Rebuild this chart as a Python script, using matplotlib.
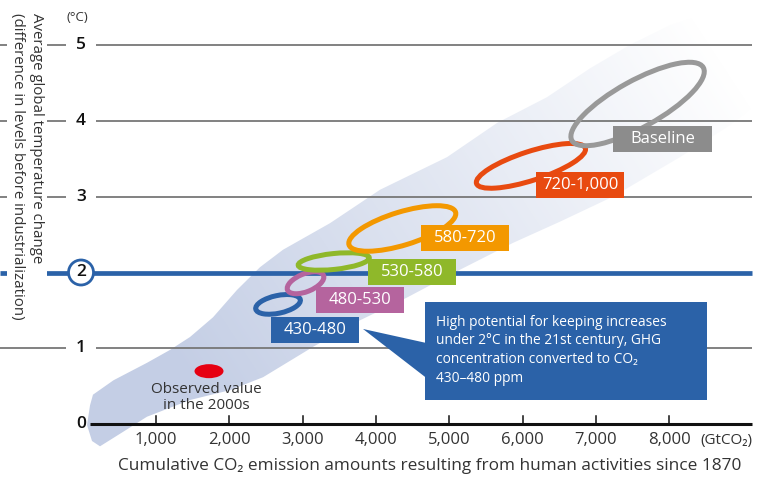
"""Cumulative CO2 emissions vs. global temperature change, by scenario."""
import numpy as np
import matplotlib
matplotlib.use("Agg")
import matplotlib.pyplot as plt
from matplotlib.patches import Ellipse, Rectangle, Polygon, Circle
from matplotlib.transforms import Affine2D

plt.rcParams['font.family'] = ['Open Sans', 'DejaVu Sans']

# scenarios (CO2-eq concentration in 2100, ppm)
SCENARIOS = ["430-480", "480-530", "530-580", "580-720", "720-1,000", "Baseline"]
RING_COLORS = ["#2b62a8", "#b5649e", "#8fb82a", "#f39800", "#e84a10", "#999999"]
BOX_COLORS = ["#2b62a8", "#b5649e", "#8fb82a", "#f39800", "#e84a10", "#8c8c8c"]
# extent of each scenario ring: cumulative emissions (GtCO2) and warming (degC)
EMIS_LO = [2360, 2790, 2940, 3630, 5370, 6660]
EMIS_HI = [2970, 3290, 3910, 5090, 6860, 8480]
TEMP_LO = [1.45, 1.72, 2.03, 2.28, 3.11, 3.67]
TEMP_HI = [1.71, 2.01, 2.26, 2.88, 3.70, 4.77]
TILT = [12, 22, 6, 17, 18, 29]  # degrees
LABEL_X = [3169, 3783, 4493, 5216, 6791, 7910]
LABEL_Y = [1.242, 1.638, 2.007, 2.455, 3.153, 3.759]

# observed value in the 2000s
OBS_EMIS = 1723
OBS_TEMP = 0.70

# range of all scenarios (shaded plume), outline in GtCO2 / degC
PLUME_X = [100, 140, 420, 877, 1191, 1464, 1778, 2105, 2419, 2733, 3374, 4056,
           4970, 5652, 6334, 6921, 7467, 8012, 8831, 9281, 9281, 8831, 8149,
           7235, 6512, 5870, 5011, 4424, 3783, 3142, 2460, 2010, 1464, 877,
           550, 236, 127, 59]
PLUME_Y = [0.25, 0.39, 0.58, 0.81, 0.98, 1.15, 1.41, 1.77, 2.07, 2.30, 2.65,
           3.09, 3.52, 3.97, 4.31, 4.69, 5.00, 5.26, 5.52, 5.06, 4.27, 3.94,
           3.52, 3.00, 2.67, 2.39, 1.97, 1.67, 1.37, 1.02, 0.62, 0.45, 0.32,
           0.10, -0.10, -0.29, -0.22, -0.01]

X_TICKS = [1000, 2000, 3000, 4000, 5000, 6000, 7000, 8000]
Y_TICKS = [0, 1, 2, 3, 4, 5]

# figure geometry: 73.3 px per 1000 GtCO2, 75.9 px per degC
W, H = 763, 484
PX_X = 1000 / 73.3
PX_Y = 1 / 75.9
X0, Y0 = 82.7, 424.3          # pixel position of the origin
XLIM = (-X0 * PX_X, (W - X0) * PX_X)
YLIM = ((Y0 - H) * PX_Y, Y0 * PX_Y)
X_END = 9133

fig = plt.figure(figsize=(W / 100, H / 100), dpi=100)
ax = fig.add_axes([0, 0, 1, 1])
ax.set_xlim(*XLIM)
ax.set_ylim(*YLIM)
ax.axis("off")


def px_transform(cx, cy):
    # shapes sized in pixels, placed at a data position
    return Affine2D().scale(PX_X, PX_Y).translate(cx, cy) + ax.transData


# plume with fading gradient
gx, gy = np.meshgrid(np.arange(W) + 0.5, np.arange(H) + 0.5)
t = ((gx - 150) * 550 - (gy - 420) * 360) / (550 ** 2 + 360 ** 2)
alpha = np.clip(1.09 - 1.06 * t, 0, 1)
rgba = np.zeros((H, W, 4))
rgba[..., 0], rgba[..., 1], rgba[..., 2] = 196 / 255, 206 / 255, 229 / 255
rgba[..., 3] = alpha
plume = Polygon(np.column_stack([PLUME_X, PLUME_Y]), closed=True,
                facecolor="none", edgecolor="none")
ax.add_patch(plume)
im = ax.imshow(rgba, extent=(*XLIM, *YLIM), origin="upper", aspect="auto",
               zorder=1, interpolation="bilinear")
im.set_clip_path(plume)

# grid lines
for yv in Y_TICKS:
    if yv == 0:
        ax.plot([100, X_END], [0, 0], color="#111111", lw=2.2, zorder=3,
                solid_capstyle="butt")
    elif yv == 2:
        ax.plot([XLIM[0], X_END], [2, 2], color="#2b62a8", lw=3.4, zorder=2,
                solid_capstyle="butt")
    else:
        ax.plot([XLIM[0], X_END], [yv, yv], color="#777777", lw=1.3, zorder=2,
                solid_capstyle="butt")

# x ticks
for xv in X_TICKS:
    ax.plot([xv, xv], [0, 0.11], color="#111111", lw=1.1, zorder=3)
    ax.text(xv, -0.207, f"{xv:,}", ha="center", va="center", fontsize=12,
            color="#333333", zorder=6)
ax.text(8776, -0.207, "(GtCO₂)", ha="center", va="center", fontsize=11,
        color="#333333")

# y ticks
LX = -23
for yv in Y_TICKS:
    if yv == 2:
        ax.add_patch(Circle((0, 0), 12.5, transform=px_transform(LX, 2),
                            facecolor="white", edgecolor="#2b62a8", lw=2,
                            zorder=5))
        ax.text(LX, 2, "2", ha="center", va="center", fontsize=12.5,
                fontweight="semibold", color="#111111", zorder=6)
    elif yv == 0:
        ax.text(LX, 0, "0", ha="center", va="center", fontsize=12.5,
                fontweight="semibold", color="#111111", zorder=6)
    else:
        ax.text(LX, yv, str(yv), ha="center", va="center", fontsize=12.5,
                fontweight="semibold", color="#111111", zorder=6,
                bbox=dict(facecolor="white", edgecolor="none", pad=7))
ax.text(-78, 5.366, "(°C)", ha="center", va="center", fontsize=9.5,
        color="#333333")

ax.text(-760, 5.42,
        "Average global temperature change\n(difference in levels before industrialization)",
        rotation=270, ha="center", va="top", multialignment="left",
        fontsize=10.8, color="#333333", linespacing=1.4, zorder=6,
        bbox=dict(facecolor="white", edgecolor="none", pad=2))

ax.text(4738, -0.549,
        "Cumulative CO₂ emission amounts resulting from human activities since 1870",
        ha="center", va="center", fontsize=12.4, color="#333333")

# scenario rings and labels
for name, ring, box, elo, ehi, tlo, thi, tilt, lx, ly in zip(
        SCENARIOS, RING_COLORS, BOX_COLORS, EMIS_LO, EMIS_HI, TEMP_LO, TEMP_HI,
        TILT, LABEL_X, LABEL_Y):
    hw = (ehi - elo) / 2 / PX_X
    hh = (thi - tlo) / 2 / PX_Y
    c2 = np.cos(np.radians(2 * tilt))
    s = hw ** 2 + hh ** 2
    d = (hw ** 2 - hh ** 2) / c2
    a = np.sqrt((s + d) / 2)
    b = np.sqrt(max((s - d) / 2, 4.0))
    ax.add_patch(Ellipse((0, 0), 2 * a, 2 * b, angle=tilt,
                         transform=px_transform((elo + ehi) / 2, (tlo + thi) / 2),
                         facecolor="none", edgecolor=ring, lw=3.6, zorder=4))
    bw = 99 if name == "Baseline" else 88
    ax.add_patch(Rectangle((-bw / 2, -13), bw, 26, transform=px_transform(lx, ly),
                           facecolor=box, edgecolor="none", zorder=5))
    ax.text(lx, ly, name, ha="center", va="center", fontsize=12, color="white",
            zorder=6)

# observed value
ax.add_patch(Ellipse((0, 0), 29, 14, transform=px_transform(OBS_EMIS, OBS_TEMP),
                     facecolor="#e60012", edgecolor="none", zorder=4))
ax.text(1683, 0.35, "Observed value\nin the 2000s", ha="center", va="center",
        fontsize=11, color="#333333", linespacing=1.05, zorder=6)

# callout
ax.add_patch(Rectangle((4670, 0.320), 3847, 1.291, facecolor="#2b62a8",
                       edgecolor="none", zorder=5))
ax.add_patch(Polygon([(3824, 1.256), (4690, 1.071), (4690, 0.610)], closed=True,
                     facecolor="#2b62a8", edgecolor="none", zorder=5))
ax.text(4820, 0.975,
        "High potential for keeping increases\nunder 2°C in the 21st century, GHG\n"
        "concentration converted to CO₂\n430–480 ppm",
        ha="left", va="center", fontsize=9.9, color="white", linespacing=1.34,
        zorder=6)

fig.savefig("out.png", dpi=100)
